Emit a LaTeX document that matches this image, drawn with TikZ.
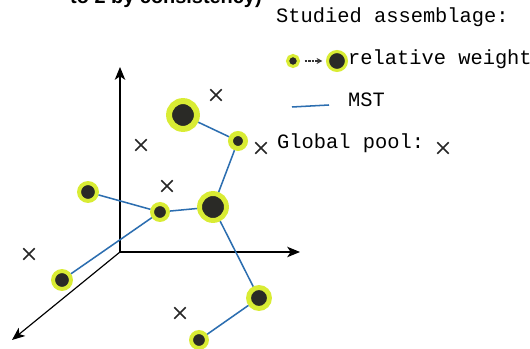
\documentclass[tikz,border=0pt]{standalone}
\usepackage{fontspec}
\setmonofont{Liberation Mono}
\setsansfont{Liberation Sans}
\usepackage{tikz}
\usetikzlibrary{arrows.meta,shapes.misc}

\definecolor{halo}{HTML}{D9EC34}
\definecolor{inkgray}{HTML}{2A2A26}
\definecolor{mstblue}{HTML}{2C6EB0}

\tikzset{
  spot/.style 2 args={circle,inner sep=0pt,fill=inkgray,draw=halo,
    minimum size=#1pt,line width=#2pt},
  pool/.style={cross out,draw=black!85,line width=1.3pt,minimum size=8.5pt,inner sep=0pt},
  mst/.style={mstblue,line width=1.3pt},
  axis/.style={black,line width=1pt,-{Stealth[length=11pt,width=9pt,inset=3pt]}},
  legend/.style={anchor=base west,inner sep=0pt,font=\ttfamily\fontsize{17.4}{20}\selectfont}
}

\begin{document}
\begin{tikzpicture}[x=0.03cm,y=-0.03cm]
 \clip (0,0) rectangle (530,349);
 \fill[white] (0,0) rectangle (530,349);
 \node[anchor=base west,inner sep=0pt,font=\sffamily\bfseries\fontsize{17}{20}\selectfont]
   (note) at (70,4) {to 2 by consistency)};

 % axes
 \coordinate (O) at (120,252);
 \coordinate (up) at (120,67);
 \coordinate (right) at (300,252);
 \coordinate (front) at (12,340);
 \draw[axis] (O) -- (up);
 \draw[axis] (O) -- (right);
 \draw[axis] (O) -- (front);

 % studied assemblage
 \node[spot={23.8}{5.1}] (A) at (183,115) {};
 \node[spot={12.8}{4.2}] (B) at (238,141) {};
 \node[spot={23}{4.2}] (C) at (213,207) {};
 \node[spot={13.6}{3.4}] (D) at (160,212) {};
 \node[spot={15.3}{3.4}] (E) at (88,192) {};
 \node[spot={15.3}{3.4}] (F) at (62,280) {};
 \node[spot={17.9}{4.2}] (G) at (259,298) {};
 \node[spot={13.6}{3.4}] (H) at (199,340) {};

 \draw[mst] (A) -- (B);
 \draw[mst] (B) -- (C);
 \draw[mst] (C) -- (D);
 \draw[mst] (D) -- (E);
 \draw[mst] (D) -- (F);
 \draw[mst] (C) -- (G);
 \draw[mst] (G) -- (H);

 % global pool
 \node[pool] (p1) at (216,95) {};
 \node[pool] (p2) at (141,145) {};
 \node[pool] (p3) at (261,148) {};
 \node[pool] (p4) at (167,186) {};
 \node[pool] (p5) at (29,254) {};
 \node[pool] (p6) at (180,313) {};

 % legend
 \node[legend] (title) at (276,23) {Studied assemblage:};
 \node[spot={9.4}{2.6}] (ls) at (293,61) {};
 \node[spot={16.2}{2.6}] (lb) at (337,61) {};
 \draw[black!80,line width=0.9pt,dash pattern=on 2pt off 1pt,-{Stealth[length=5pt,width=5pt]},
   shorten <=4pt,shorten >=3pt] (ls) -- (lb);
 \node[legend] (wt) at (348,65) {relative weight};
 \coordinate (m1) at (292,107);
 \coordinate (m2) at (329,105);
 \draw[mst] (m1) -- (m2);
 \node[legend] (mstlab) at (348,107) {MST};
 \node[legend] (glob) at (277,149) {Global pool:};
 \node[pool] (lp) at (443,148) {};
\end{tikzpicture}
\end{document}
